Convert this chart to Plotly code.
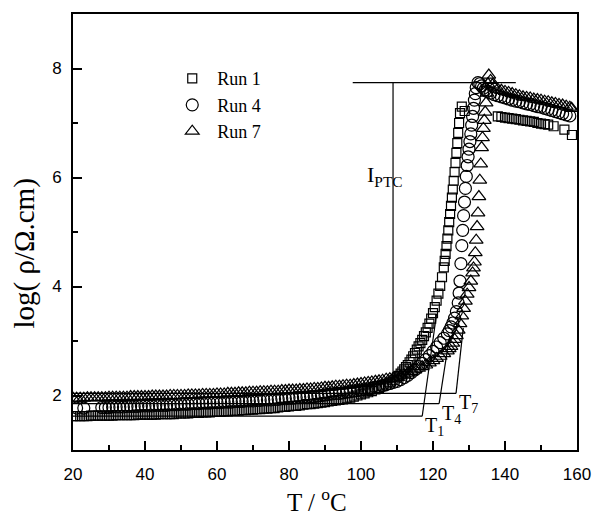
import plotly.graph_objects as go

# ---------------- data ----------------
run1_T = [20,21,22,23,24,25,26,27,28,29,30,31,32,33,34,35,36,37,38,39,
          40,41,42,43,44,45,46,47,48,49,50,51,52,53,54,55,56,57,58,59,
          60,61,62,63,64,65,66,67,68,69,70,71,72,73,74,75,76,77,78,79,
          80,81,82,83,84,85,86,87,88,89,90,91,92,93,94,95,96,97,98,99,
          100,101,102,103,104,105,106,107,108,109,
          110,110.5,111,111.5,112,112.5,113,113.5,114,114.5,115,115.5,116,116.5,
          117,117.5,118,118.5,119,119.5,120,120.5,121,121.5,122,122.5,123,123.25,123.5,123.75,
          124,124.25,124.5,124.75,125,125.25,125.5,125.75,126,126.25,126.5,126.75,127,127.25,127.5,128,128.8,
          138,139,140,141,142,143,144,145,146,147,148,149,150,151,152,153.5,156.5,158.6]
run1_logrho = [1.62,1.62,1.62,1.62,1.62,1.63,1.63,1.63,1.63,1.63,
               1.63,1.63,1.64,1.64,1.64,1.64,1.64,1.64,1.65,1.65,
               1.65,1.65,1.65,1.65,1.66,1.66,1.66,1.66,1.66,1.67,
               1.67,1.67,1.67,1.68,1.68,1.68,1.69,1.69,1.69,1.70,
               1.70,1.70,1.71,1.71,1.72,1.72,1.72,1.73,1.73,1.74,
               1.74,1.75,1.75,1.76,1.76,1.77,1.77,1.78,1.79,1.79,
               1.80,1.81,1.81,1.82,1.83,1.84,1.84,1.85,1.86,1.87,
               1.88,1.89,1.90,1.91,1.92,1.93,1.95,1.96,1.98,2.00,
               2.02,2.04,2.06,2.08,2.11,2.14,2.17,2.20,2.24,2.28,
               2.33,2.36,2.40,2.44,2.48,2.52,2.56,2.61,2.66,2.72,2.78,2.84,2.90,2.96,
               3.02,3.09,3.16,3.24,3.32,3.41,3.51,3.62,3.74,3.87,4.01,4.17,4.35,4.47,4.60,4.74,
               4.88,5.03,5.18,5.33,5.48,5.63,5.78,5.94,6.10,6.27,6.45,6.63,6.82,7.00,7.18,7.30,7.22,
               7.12,7.11,7.10,7.09,7.08,7.07,7.06,7.05,7.04,7.03,7.02,7.00,6.99,6.98,6.97,6.94,6.88,6.78]

run4_T = [21,23,28,29,30,31,32,33,34,35,36,37,38,39,
          40,41,42,43,44,45,46,47,48,49,50,51,52,53,54,55,56,57,58,59,
          60,61,62,63,64,65,66,67,68,69,70,71,72,73,74,75,76,77,78,79,
          80,81,82,83,84,85,86,87,88,89,90,91,92,93,94,95,96,97,98,99,
          100,101,102,103,104,105,106,107,108,109,110,
          111,112,113,114,115,116,117,118,119,120,121,122,123,124,124.5,125,125.5,
          126,126.5,127,127.25,127.5,127.75,128,128.25,128.5,128.75,129,129.25,129.5,129.75,
          130,130.25,130.5,130.75,131,131.25,131.5,131.75,132,132.5,133,133.5,134,134.5,
          135,136,137,138,139,140,
          141,142,143,144,145,146,147,148,149,150,151,152,153,154,155,156,157,158]
run4_logrho = [1.77,1.77,1.78,1.78,
               1.78,1.79,1.79,1.79,1.79,1.80,1.80,1.80,1.80,1.81,
               1.81,1.81,1.81,1.82,1.82,1.82,1.82,1.83,1.83,1.83,
               1.84,1.84,1.84,1.85,1.85,1.85,1.86,1.86,1.86,1.87,
               1.87,1.87,1.88,1.88,1.88,1.89,1.89,1.89,1.90,1.90,
               1.90,1.91,1.91,1.92,1.92,1.92,1.93,1.93,1.94,1.94,
               1.95,1.95,1.96,1.96,1.97,1.97,1.98,1.98,1.99,2.00,
               2.01,2.02,2.03,2.04,2.04,2.05,2.06,2.07,2.08,2.09,
               2.10,2.11,2.12,2.13,2.15,2.16,2.18,2.20,2.22,2.24,2.26,
               2.29,2.33,2.37,2.42,2.47,2.53,2.59,2.66,2.73,2.81,2.89,2.97,3.05,3.13,3.19,3.26,3.33,
               3.42,3.54,3.70,3.88,4.10,4.42,4.75,5.03,5.30,5.55,5.80,6.02,6.22,6.38,
               6.52,6.66,6.80,6.96,7.12,7.27,7.42,7.54,7.65,7.74,7.72,7.68,7.64,7.61,
               7.58,7.55,7.52,7.50,7.48,7.46,
               7.44,7.42,7.40,7.39,7.37,7.35,7.34,7.32,7.30,7.29,7.27,7.25,7.23,7.21,7.19,7.17,7.15,7.13]

run7_T = [20,21,22,23,24,25,26,27,28,29,30,31,32,33,34,35,36,37,38,39,
          40,41,42,43,44,45,46,47,48,49,50,51,52,53,54,55,56,57,58,59,
          60,61,62,63,64,65,66,67,68,69,70,71,72,73,74,75,76,77,78,79,
          80,81,82,83,84,85,86,87,88,89,90,91,92,93,94,95,96,97,98,99,
          100,101,102,103,104,105,106,107,108,109,
          110,111,112,113,114,115,116,117,118,119,120,121,122,123,124,124.5,125,125.5,
          126,126.5,127,127.5,128,128.5,129,129.5,130,130.5,131,131.25,131.5,131.75,132,132.25,132.5,
          132.75,133,133.25,133.5,133.75,134,134.25,134.5,134.75,135,135.25,135.5,136,136.5,137,138,139,140,
          141,142,143,144,145,146,147,148,149,150,151,152,153,154,155,156,157,158,158.5]
run7_logrho = [1.95,1.95,1.95,1.95,1.96,1.96,1.96,1.96,1.96,1.96,
               1.97,1.97,1.97,1.97,1.97,1.97,1.98,1.98,1.98,1.98,
               1.98,1.98,1.99,1.99,1.99,1.99,1.99,2.00,2.00,2.00,
               2.00,2.00,2.01,2.01,2.01,2.01,2.02,2.02,2.02,2.02,
               2.03,2.03,2.03,2.04,2.04,2.04,2.05,2.05,2.05,2.06,
               2.06,2.06,2.07,2.07,2.07,2.08,2.08,2.08,2.09,2.09,
               2.10,2.10,2.10,2.11,2.11,2.12,2.12,2.13,2.13,2.14,
               2.15,2.15,2.16,2.17,2.17,2.18,2.19,2.19,2.20,2.21,
               2.22,2.23,2.24,2.25,2.26,2.27,2.28,2.30,2.31,2.32,
               2.34,2.36,2.38,2.41,2.44,2.47,2.50,2.53,2.56,2.60,2.64,2.68,2.72,2.77,2.82,2.86,2.90,2.96,
               3.03,3.10,3.20,3.32,3.46,3.60,3.73,3.86,3.98,4.10,4.25,4.34,4.45,4.62,4.85,5.10,5.35,
               5.65,5.95,6.25,6.55,6.73,6.90,7.05,7.20,7.37,7.55,7.72,7.88,7.78,7.70,7.66,7.62,7.60,7.58,
               7.56,7.54,7.52,7.50,7.48,7.47,7.46,7.44,7.43,7.42,7.40,7.39,7.37,7.36,7.34,7.33,7.31,7.29,7.27]

series_names = ["Run 1", "Run 4", "Run 7"]

# annotation construction values
iptc_level = 7.74
iptc_T = 108.9
iptc_bottom = 2.37
iptc_hline = [97.7, 143.0]
onset_T = [117.0, 121.7, 126.4]
onset_base = [1.62, 1.85, 2.04]
tangent_top = [(121.0, 3.50), (124.5, 3.05), (128.4, 3.24)]
onset_labels = ["T<sub>1</sub>", "T<sub>4</sub>", "T<sub>7</sub>"]

# ---------------- figure ----------------
serif = "Liberation Serif, Times New Roman, serif"
sans = "Liberation Sans, Arial, sans-serif"

fig = go.Figure()
styles = [("square-open", 9), ("circle-open", 12), ("triangle-up-open", 12)]
for name, xs, ys, (sym, sz) in zip(series_names,
                                   [run1_T, run4_T, run7_T],
                                   [run1_logrho, run4_logrho, run7_logrho],
                                   styles):
    fig.add_trace(go.Scatter(x=xs, y=ys, mode="markers", name=name,
                             marker=dict(symbol=sym, size=sz, color="black",
                                         line=dict(color="black", width=1.2))))

shapes = []
line_style = dict(color="black", width=1.2)
shapes.append(dict(type="line", xref="x", yref="y", x0=iptc_hline[0], x1=iptc_hline[1],
                   y0=iptc_level, y1=iptc_level, line=line_style))
shapes.append(dict(type="line", xref="x", yref="y", x0=iptc_T, x1=iptc_T,
                   y0=iptc_level, y1=iptc_bottom, line=line_style))
for t, b, (tx, ty) in zip(onset_T, onset_base, tangent_top):
    shapes.append(dict(type="line", xref="x", yref="y", x0=20, x1=t, y0=b, y1=b, line=line_style))
    shapes.append(dict(type="line", xref="x", yref="y", x0=t, x1=tx, y0=b, y1=ty, line=line_style))

annotations = []
for t, b, lab in zip(onset_T, onset_base, onset_labels):
    annotations.append(dict(x=t, y=b, xref="x", yref="y", text=lab, showarrow=False,
                            xanchor="left", yanchor="top", xshift=1, yshift=4,
                            font=dict(family=serif, size=20, color="black")))
annotations.append(dict(x=106.6, y=6.02, xref="x", yref="y", text="I<sub>PTC</sub>",
                        showarrow=False, xanchor="center", yanchor="middle",
                        font=dict(family=serif, size=22, color="black")))
annotations.append(dict(x=-0.0957, y=0.45, xref="paper", yref="paper",
                        text="log( \u03c1/\u03a9.cm)", textangle=-90, showarrow=False,
                        xanchor="center", yanchor="middle",
                        font=dict(family=serif, size=29, color="black")))
annotations.append(dict(x=0.484, y=-0.114, xref="paper", yref="paper",
                        text="T / <sup>o</sup>C", showarrow=False,
                        xanchor="center", yanchor="middle",
                        font=dict(family=serif, size=25, color="black")))

axis_common = dict(showgrid=False, zeroline=False, showline=True, linecolor="black",
                   linewidth=2, mirror=True, ticks="inside", tickcolor="black",
                   tickwidth=1.5, ticklen=9,
                   tickfont=dict(family=sans, size=17, color="black"))

fig.update_layout(
    width=603, height=514,
    margin=dict(l=73, r=18, t=12, b=64),
    paper_bgcolor="white", plot_bgcolor="white",
    shapes=shapes, annotations=annotations,
    showlegend=True,
    legend=dict(x=0.187, y=0.894, xanchor="left", yanchor="top",
                bgcolor="rgba(0,0,0,0)", borderwidth=0,
                font=dict(family=serif, size=18, color="black"),
                tracegroupgap=0, itemwidth=40),
    xaxis=dict(range=[20, 160], tickvals=[20, 40, 60, 80, 100, 120, 140, 160],
               minor=dict(dtick=10, tick0=20, ticks="inside", ticklen=5,
                          tickwidth=1.5, tickcolor="black"),
               ticklabelstandoff=8, **axis_common),
    yaxis=dict(range=[1, 9], tickvals=[2, 4, 6, 8],
               minor=dict(dtick=1, tick0=1, ticks="inside", ticklen=5,
                          tickwidth=1.5, tickcolor="black"),
               ticklabelstandoff=6, **axis_common),
)

fig.write_html("out.html", config={"displayModeBar": False},
               post_script="document.body.style.margin='0';document.body.style.padding='0';")
